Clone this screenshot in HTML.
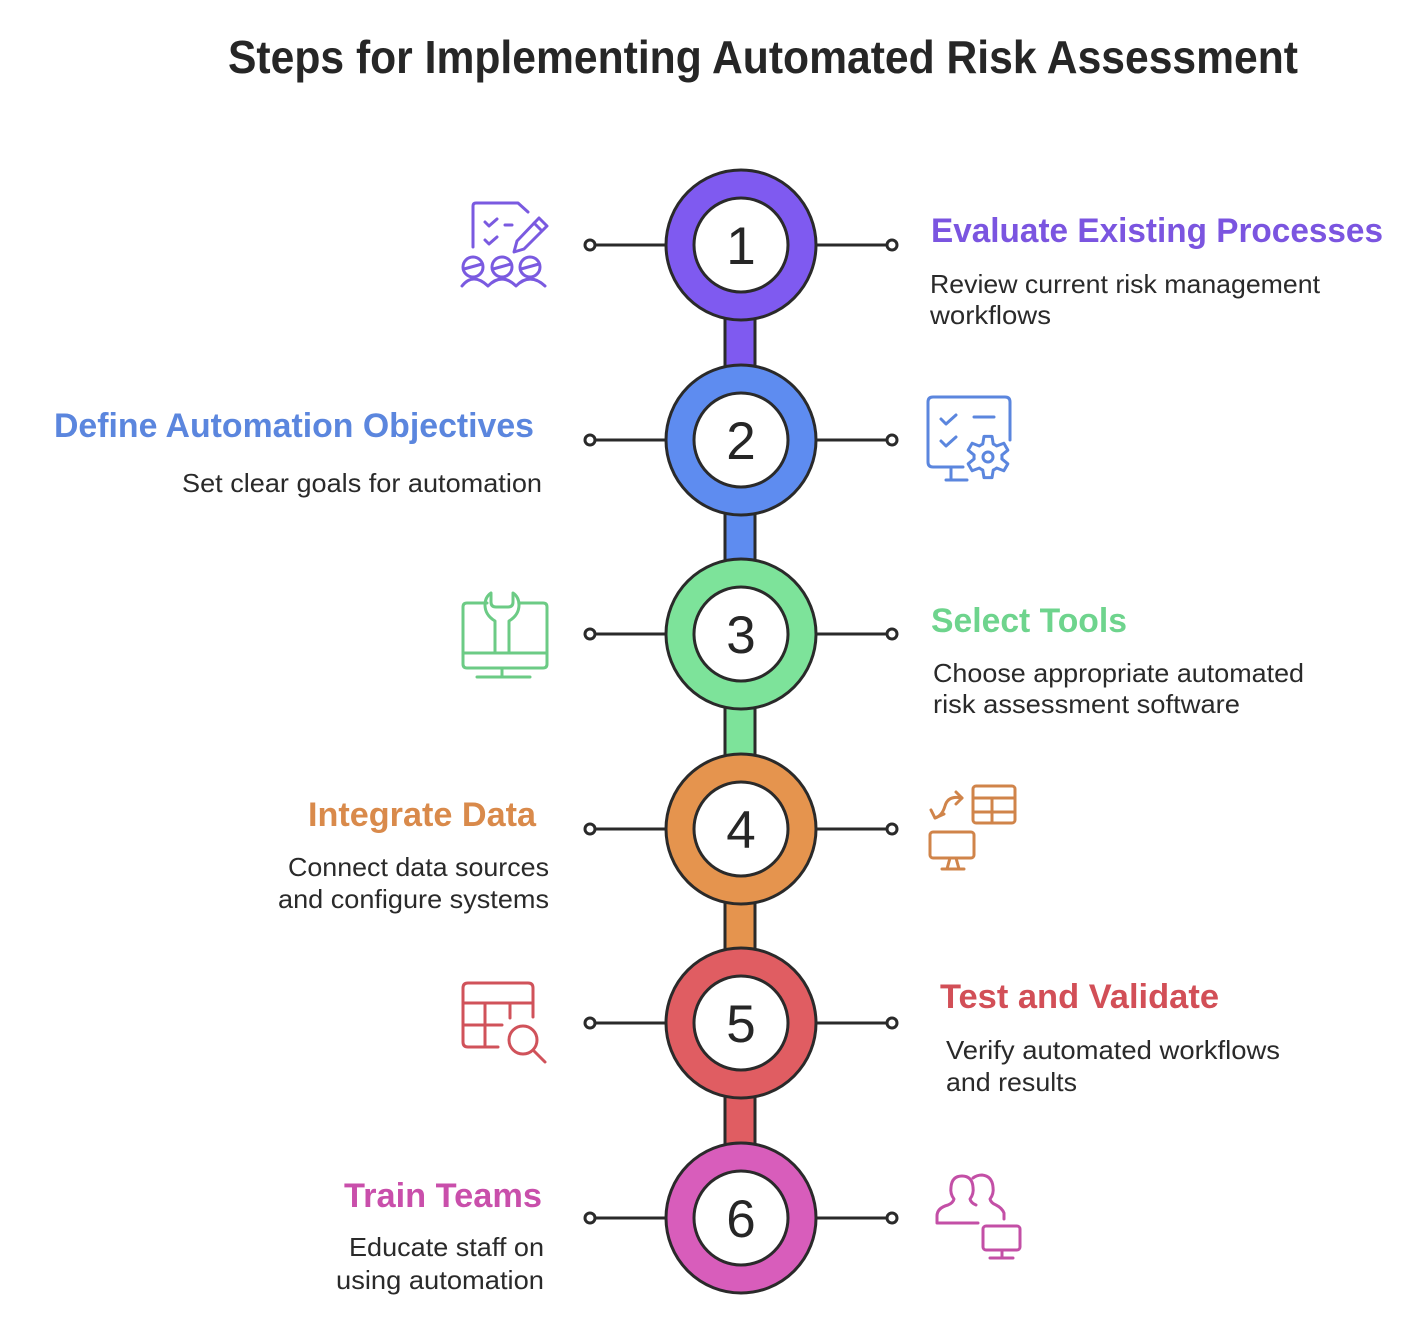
<!DOCTYPE html>
<html>
<head>
<meta charset="utf-8">
<style>
html,body{margin:0;padding:0;background:#ffffff;}
svg{display:block;}
text{font-family:"Liberation Sans",Arial,sans-serif;}
.t{font-weight:bold;font-size:46px;fill:#262626;}
.h{font-weight:bold;font-size:34px;}
.d{font-size:26px;fill:#2a2a2a;}
.n{font-size:53px;fill:#262626;text-anchor:middle;}
.ic{fill:none;stroke-width:3;stroke-linecap:round;stroke-linejoin:round;}
</style>
</head>
<body>
<svg width="1420" height="1326" viewBox="0 0 1420 1326" xmlns="http://www.w3.org/2000/svg">
<rect width="1420" height="1326" fill="#ffffff"/>
<text class="t" x="228" y="73" textLength="1070" lengthAdjust="spacingAndGlyphs">Steps for Implementing Automated Risk Assessment</text>

<!-- connector bars -->
<g stroke="#2a2a2a" stroke-width="3">
<rect x="725" y="310" width="30" height="70" fill="#7f5af0"/>
<rect x="725" y="505" width="30" height="70" fill="#5e8cf0"/>
<rect x="725" y="699" width="30" height="70" fill="#7de39a"/>
<rect x="725" y="894" width="30" height="70" fill="#e5944e"/>
<rect x="725" y="1088" width="30" height="70" fill="#e05d62"/>
</g>

<!-- side lines -->
<g stroke="#2a2a2a" stroke-width="3" fill="#ffffff">
<line x1="595" y1="245" x2="666" y2="245"/><line x1="816" y1="245" x2="887" y2="245"/>
<circle cx="590" cy="245" r="5"/><circle cx="892" cy="245" r="5"/>
<line x1="595" y1="440" x2="666" y2="440"/><line x1="816" y1="440" x2="887" y2="440"/>
<circle cx="590" cy="440" r="5"/><circle cx="892" cy="440" r="5"/>
<line x1="595" y1="634" x2="666" y2="634"/><line x1="816" y1="634" x2="887" y2="634"/>
<circle cx="590" cy="634" r="5"/><circle cx="892" cy="634" r="5"/>
<line x1="595" y1="829" x2="666" y2="829"/><line x1="816" y1="829" x2="887" y2="829"/>
<circle cx="590" cy="829" r="5"/><circle cx="892" cy="829" r="5"/>
<line x1="595" y1="1023" x2="666" y2="1023"/><line x1="816" y1="1023" x2="887" y2="1023"/>
<circle cx="590" cy="1023" r="5"/><circle cx="892" cy="1023" r="5"/>
<line x1="595" y1="1218" x2="666" y2="1218"/><line x1="816" y1="1218" x2="887" y2="1218"/>
<circle cx="590" cy="1218" r="5"/><circle cx="892" cy="1218" r="5"/>
</g>

<!-- rings -->
<g stroke="#2a2a2a" stroke-width="3">
<circle cx="741" cy="245" r="75" fill="#7f5af0"/><circle cx="741" cy="245" r="47" fill="#ffffff"/>
<circle cx="741" cy="440" r="75" fill="#5e8cf0"/><circle cx="741" cy="440" r="47" fill="#ffffff"/>
<circle cx="741" cy="634" r="75" fill="#7de39a"/><circle cx="741" cy="634" r="47" fill="#ffffff"/>
<circle cx="741" cy="829" r="75" fill="#e5944e"/><circle cx="741" cy="829" r="47" fill="#ffffff"/>
<circle cx="741" cy="1023" r="75" fill="#e05d62"/><circle cx="741" cy="1023" r="47" fill="#ffffff"/>
<circle cx="741" cy="1218" r="75" fill="#d85dbb"/><circle cx="741" cy="1218" r="47" fill="#ffffff"/>
</g>
<text class="n" x="741" y="264">1</text>
<text class="n" x="741" y="459">2</text>
<text class="n" x="741" y="653">3</text>
<text class="n" x="741" y="848">4</text>
<text class="n" x="741" y="1042">5</text>
<text class="n" x="741" y="1237">6</text>

<!-- headings & descriptions -->
<text class="h" fill="#7b55e0" x="931" y="242" textLength="452" lengthAdjust="spacingAndGlyphs">Evaluate Existing Processes</text>
<text class="d" x="930" y="293" textLength="390" lengthAdjust="spacingAndGlyphs">Review current risk management</text>
<text class="d" x="930" y="324" textLength="121" lengthAdjust="spacingAndGlyphs">workflows</text>

<text class="h" fill="#5b86de" x="54" y="437" textLength="480" lengthAdjust="spacingAndGlyphs">Define Automation Objectives</text>
<text class="d" x="182" y="492" textLength="360" lengthAdjust="spacingAndGlyphs">Set clear goals for automation</text>

<text class="h" fill="#6ed48d" x="931" y="632" textLength="196" lengthAdjust="spacingAndGlyphs">Select Tools</text>
<text class="d" x="933" y="682" textLength="371" lengthAdjust="spacingAndGlyphs">Choose appropriate automated</text>
<text class="d" x="933" y="713" textLength="307" lengthAdjust="spacingAndGlyphs">risk assessment software</text>

<text class="h" fill="#d98a4b" x="308" y="826" textLength="228" lengthAdjust="spacingAndGlyphs">Integrate Data</text>
<text class="d" x="288" y="876" textLength="261" lengthAdjust="spacingAndGlyphs">Connect data sources</text>
<text class="d" x="278" y="908" textLength="271" lengthAdjust="spacingAndGlyphs">and configure systems</text>

<text class="h" fill="#d24f57" x="940" y="1008" textLength="279" lengthAdjust="spacingAndGlyphs">Test and Validate</text>
<text class="d" x="946" y="1059" textLength="334" lengthAdjust="spacingAndGlyphs">Verify automated workflows</text>
<text class="d" x="946" y="1091" textLength="131" lengthAdjust="spacingAndGlyphs">and results</text>

<text class="h" fill="#c94fab" x="344" y="1207" textLength="198" lengthAdjust="spacingAndGlyphs">Train Teams</text>
<text class="d" x="349" y="1256" textLength="195" lengthAdjust="spacingAndGlyphs">Educate staff on</text>
<text class="d" x="336" y="1289" textLength="208" lengthAdjust="spacingAndGlyphs">using automation</text>

<!-- icon 1 (purple) -->
<g class="ic" stroke="#7a5ae0">
<path d="M473,247 V206 Q473,203 476,203 H518 L528,212"/>
<path d="M485,222 l4,4 l8,-7"/>
<path d="M485,240 l4,4 l8,-7"/>
<path d="M505,225 H512"/>
<path d="M539,218 L547,226 L524,249 L514,252 L517,241 Z M534,223 L542,231"/>
<circle cx="473" cy="267" r="10"/><path d="M464,269 L482,264"/>
<circle cx="502" cy="267" r="10"/><path d="M493,269 L511,264"/>
<circle cx="530" cy="267" r="10"/><path d="M521,269 L539,264"/>
<path d="M462,286 Q473,272 488,286 Q502,272 516,286 Q530,272 545,286"/>
</g>

<!-- icon 2 (blue) -->
<g class="ic" stroke="#5b86de">
<path d="M1010,440 V402 Q1010,397 1005,397 H933 Q928,397 928,402 V462 Q928,467 933,467 H963"/>
<path d="M951,467 V480 M946,480 H967"/>
<path d="M941,419 l5,5 l10,-9"/>
<path d="M941,441 l5,5 l10,-9"/>
<path d="M974,417 H994"/>
<path d="M982.76,444.02 L983.99,436.39 L992.01,436.39 L993.24,444.02 A14,14 0 0 1 996.62,445.97 L1003.85,443.22 L1007.86,450.16 L1001.86,455.05 A14,14 0 0 1 1001.86,458.95 L1007.86,463.84 L1003.85,470.78 L996.62,468.03 A14,14 0 0 1 993.24,469.98 L992.01,477.61 L983.99,477.61 L982.76,469.98 A14,14 0 0 1 979.38,468.03 L972.15,470.78 L968.14,463.84 L974.14,458.95 A14,14 0 0 1 974.14,455.05 L968.14,450.16 L972.15,443.22 L979.38,445.97 A14,14 0 0 1 982.76,444.02 Z"/>
<circle cx="988" cy="457" r="5"/>
</g>

<!-- icon 3 (green) -->
<g class="ic" stroke="#6ccb85">
<path d="M487,603 H467 Q463,603 463,607 V664 Q463,668 467,668 H543 Q547,668 547,664 V607 Q547,603 543,603 H520"/>
<path d="M463,653 H547"/>
<path d="M502,668 V677 M477,677 H530"/>
<path d="M495,653 V621 Q485,615 485,605 Q485,597 491,593 V602 Q491,607 496,607 H508 Q513,607 513,602 V593 Q519,597 519,605 Q519,615 509,621 V653"/>
</g>

<!-- icon 4 (orange) -->
<g class="ic" stroke="#d0844a">
<rect x="973" y="786" width="42" height="37" rx="3"/>
<path d="M973,798 H1015 M973,812 H1015 M992,798 V823"/>
<path d="M962,798 Q948,795 945,806 Q942,816 935,818"/>
<path d="M956,792 L962,798 L956,804"/>
<path d="M931,810 L935,818 L944,814"/>
<rect x="930" y="832" width="44" height="26" rx="3"/>
<path d="M950,858 L947,869 M956,858 L959,869 M942,869 H964"/>
</g>

<!-- icon 5 (red) -->
<g class="ic" stroke="#d0525a">
<path d="M498,1047 H468 Q463,1047 463,1042 V988 Q463,983 468,983 H528 Q533,983 533,988 V1017"/>
<path d="M463,1003 H533"/>
<path d="M485,1003 V1047"/>
<path d="M463,1025 H502"/>
<path d="M510,1003 V1018"/>
<circle cx="523" cy="1040" r="14"/>
<path d="M533,1050 L545,1062"/>
</g>

<!-- icon 6 (pink) -->
<g class="ic" stroke="#c34fa6">
<path d="M978,1223 H937 V1216 Q937,1208 948,1205 Q953,1203 954,1199 Q950,1194 951,1187 Q952,1176 962,1176 Q972,1176 973,1187 Q974,1194 970,1199 Q971,1203 976,1205"/>
<path d="M973,1178 Q977,1175 982,1175 Q992,1176 993,1187 Q994,1194 990,1199 Q991,1203 996,1205 Q1002,1208 1004,1213 V1219"/>
<rect x="983" y="1226" width="37" height="24" rx="3"/>
<path d="M1002,1250 V1258 M990,1258 H1013"/>
</g>
</svg>
</body>
</html>
